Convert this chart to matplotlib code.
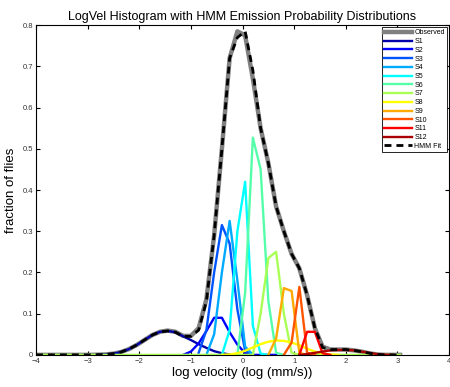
import matplotlib
matplotlib.use("Agg")
import matplotlib.pyplot as plt
import numpy as np

plt.rcParams['font.family'] = ['Liberation Sans', 'DejaVu Sans']

# bin centres, log10 velocity
bins = np.arange(48) * 0.15 - 4.0

observed = [0, 0, 0, 0, 0, 0, 0, 0, 0.0005, 0.001, 0.003, 0.007, 0.014, 0.024,
            0.036, 0.048, 0.056, 0.059, 0.056, 0.046, 0.046, 0.065, 0.135, 0.29,
            0.50, 0.72, 0.785, 0.775, 0.67, 0.55, 0.465, 0.36, 0.30, 0.245,
            0.21, 0.145, 0.065, 0.02, 0.013, 0.013, 0.013, 0.011, 0.008, 0.004,
            0.001, 0, 0, 0]

hmm_fit = [0, 0, 0, 0, 0, 0, 0, 0, 0.0005, 0.001, 0.003, 0.007, 0.014, 0.024,
           0.036, 0.048, 0.056, 0.058, 0.055, 0.045, 0.045, 0.06, 0.13, 0.29,
           0.50, 0.72, 0.77, 0.785, 0.69, 0.55, 0.465, 0.36, 0.30, 0.245,
           0.21, 0.145, 0.065, 0.018, 0.013, 0.013, 0.013, 0.011, 0.008, 0.004,
           0.001, 0, 0, 0]

# each state: index of first bin, then values from there on
s1_start, s1 = 8, [0.0005, 0.001, 0.003, 0.007, 0.014, 0.024, 0.036, 0.048, 0.056,
                   0.058, 0.055, 0.045, 0.036, 0.026, 0.017, 0.009, 0.004, 0.001, 0]
s2_start, s2 = 19, [0, 0.008, 0.028, 0.058, 0.09, 0.09, 0.055, 0.025, 0.004, 0,
                    0, 0, 0]
s3_start, s3 = 21, [0.005, 0.06, 0.2, 0.315, 0.27, 0.11, 0.01, 0]
s4_start, s4 = 22, [0, 0.05, 0.2, 0.325, 0.18, 0.02, 0]
s5_start, s5 = 24, [0, 0.06, 0.3, 0.42, 0.07, 0.003, 0]
s6_start, s6 = 26, [0, 0.15, 0.527, 0.45, 0.13, 0.005, 0]
s7_start, s7 = 0, [0] * 28 + [0, 0.1, 0.235, 0.25, 0.1, 0.005] + [0] * 14
s8_start, s8 = 24, [0, 0.001, 0.004, 0.01, 0.018, 0.026, 0.032, 0.035, 0.034,
                    0.03, 0.023, 0.015, 0.008, 0.003, 0.001, 0]
s9_start, s9 = 30, [0, 0.04, 0.162, 0.155, 0.005, 0]
s10_start, s10 = 32, [0, 0.03, 0.165, 0.005, 0]
s11_start, s11 = 34, [0, 0.056, 0.056, 0.004, 0]
s12_start, s12 = 34, [0, 0.002, 0.005, 0.008, 0.011, 0.012, 0.012, 0.011, 0.008,
                      0.005, 0.002, 0.0005, 0]

states = [(s1_start, s1), (s2_start, s2), (s3_start, s3), (s4_start, s4),
          (s5_start, s5), (s6_start, s6), (s7_start, s7), (s8_start, s8),
          (s9_start, s9), (s10_start, s10), (s11_start, s11), (s12_start, s12)]
labels = ['S%d' % (i + 1) for i in range(12)]

# matlab jet(12)
colors = [(0, 0, 0.6667), (0, 0, 1), (0, 0.3333, 1), (0, 0.6667, 1), (0, 1, 1),
          (0.3333, 1, 0.6667), (0.6667, 1, 0.3333), (1, 1, 0), (1, 0.6667, 0),
          (1, 0.3333, 0), (1, 0, 0), (0.6667, 0, 0)]


def plot_hist():
    fig = plt.figure(figsize=(4.5, 3.87), dpi=100)
    ax = fig.add_axes([0.08, 0.083, 0.918, 0.852])

    ax.plot(bins, observed, color=(0.5, 0.5, 0.5), lw=3.2, label='Observed')
    for i, (start, vals) in enumerate(states):
        xs = bins[start:start + len(vals)]
        ax.plot(xs, vals, color=colors[i], lw=1.7, label=labels[i])
    ax.plot(bins, hmm_fit, 'k--', lw=2, dashes=(2.5, 1.8), label='HMM Fit')

    ax.set_xlim(-4, 4)
    ax.set_ylim(0, 0.8)
    ax.set_xticks(range(-4, 5))
    ax.set_xticklabels([str(v).replace('-', '\u2212') for v in range(-4, 5)])
    ax.set_yticks(np.arange(9) / 10)
    ax.set_yticklabels(['0', '0.1', '0.2', '0.3', '0.4', '0.5', '0.6', '0.7', '0.8'])
    ax.tick_params(direction='in', top=True, right=True, labelsize=5.5, length=3,
                   pad=2, labelcolor='#333333')
    for sp in ax.spines.values():
        sp.set_linewidth(0.8)

    ax.set_title('LogVel Histogram with HMM Emission Probability Distributions',
                 fontsize=9, pad=4)
    ax.set_xlabel('log velocity (log (mm/s))', fontsize=9.5, labelpad=2)
    ax.set_ylabel('fraction of flies', fontsize=9.5, labelpad=4)

    leg = ax.legend(loc='upper right', fontsize=5, handlelength=4,
                    borderaxespad=0.3, labelspacing=0.25, fancybox=False,
                    framealpha=1, handletextpad=0.4, borderpad=0.3)
    leg.get_frame().set_edgecolor('black')
    leg.get_frame().set_linewidth(0.6)

    fig.savefig('out.png', dpi=100)


if __name__ == "__main__":
    plot_hist()
